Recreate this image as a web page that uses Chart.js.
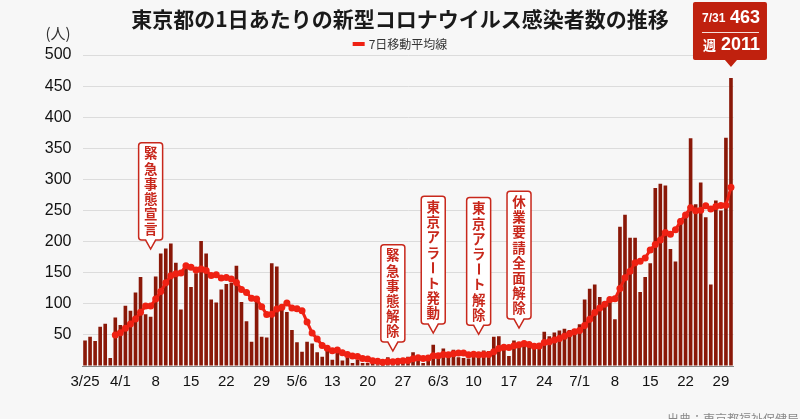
<!DOCTYPE html>
<html lang="ja">
<head>
<meta charset="utf-8">
<title>東京都の1日あたりの新型コロナウイルス感染者数の推移</title>
<script src="https://cdn.jsdelivr.net/npm/chart.js@4.4.1/dist/chart.umd.min.js"></script>
<style>
  html, body { margin: 0; padding: 0; background: #f7f7f7; }
  #wrap { width: 800px; height: 419px; position: relative; }
</style>
</head>
<body>
<div id="wrap"><canvas id="chart"></canvas></div>
<script>
// 日付 3/25〜7/31
const dates = [
  '3/25','3/26','3/27','3/28','3/29','3/30','3/31',
  '4/1','4/2','4/3','4/4','4/5','4/6','4/7','4/8','4/9','4/10','4/11','4/12','4/13','4/14','4/15',
  '4/16','4/17','4/18','4/19','4/20','4/21','4/22','4/23','4/24','4/25','4/26','4/27','4/28','4/29','4/30',
  '5/1','5/2','5/3','5/4','5/5','5/6','5/7','5/8','5/9','5/10','5/11','5/12','5/13','5/14','5/15','5/16',
  '5/17','5/18','5/19','5/20','5/21','5/22','5/23','5/24','5/25','5/26','5/27','5/28','5/29','5/30','5/31',
  '6/1','6/2','6/3','6/4','6/5','6/6','6/7','6/8','6/9','6/10','6/11','6/12','6/13','6/14','6/15',
  '6/16','6/17','6/18','6/19','6/20','6/21','6/22','6/23','6/24','6/25','6/26','6/27','6/28','6/29','6/30',
  '7/1','7/2','7/3','7/4','7/5','7/6','7/7','7/8','7/9','7/10','7/11','7/12','7/13','7/14','7/15','7/16',
  '7/17','7/18','7/19','7/20','7/21','7/22','7/23','7/24','7/25','7/26','7/27','7/28','7/29','7/30','7/31'
];

// x軸に出すラベル（7日ごと）
const tickLabels = ['3/25','4/1','8','15','22','29','5/6','13','20','27','6/3','10','17','24','7/1','8','15','22','29'];

// 1日あたりの感染者数
const daily = [
  41,47,40,63,68,13,78,
  66,97,89,118,143,83,79,144,181,189,197,166,91,161,127,149,201,181,107,102,123,132,134,161,103,72,39,112,47,46,
  165,160,91,87,58,38,23,39,36,22,15,28,10,30,9,14,5,10,5,5,11,3,2,14,8,10,11,15,22,14,5,
  13,34,12,28,20,26,14,13,12,18,22,25,24,47,48,27,16,41,35,39,35,29,31,55,48,54,57,60,58,54,
  67,107,124,131,111,102,106,75,224,243,206,206,119,143,165,286,293,290,188,168,237,238,366,260,295,239,131,266,250,367,463
];

// 7日移動平均
const ma7 = [
  null,null,null,null,null,null,50.0,
  53.6,60.7,67.7,75.6,86.3,96.3,96.4,107.6,119.6,133.9,145.1,148.4,149.6,161.3,158.9,154.3,156.0,153.7,145.3,146.9,
  141.4,142.1,140.0,134.3,123.1,118.1,109.1,107.6,95.4,82.9,
  83.4,91.6,94.3,101.1,93.4,92.1,88.9,70.9,53.1,43.3,33.0,28.7,24.7,25.7,21.4,18.3,15.9,15.1,11.9,11.1,
  8.4,7.6,5.9,7.1,6.9,7.6,8.4,9.0,11.7,13.4,12.1,
  12.9,16.3,16.4,18.3,18.0,19.7,21.0,21.0,17.9,18.7,17.9,18.6,18.3,23.0,28.0,30.1,29.9,32.6,34.0,36.1,
  34.4,31.7,32.3,37.9,38.9,41.6,44.1,47.7,51.9,55.1,
  56.9,65.3,75.3,85.9,93.1,99.4,106.9,108.0,124.7,141.7,152.4,166.0,168.4,173.7,186.6,195.4,202.6,214.6,212.0,219.0,
  232.4,242.9,254.3,249.6,250.3,257.6,252.3,256.4,258.1,258.3,287.3
];

// 出来事の吹き出し（tip は吹き出し先端のy値）
const events = [
  { date: '4/7',  text: '緊急事態宣言',     tip: 188 },
  { date: '5/25', text: '緊急事態解除',     tip: 24 },
  { date: '6/2',  text: '東京アラート発動', tip: 53 },
  { date: '6/11', text: '東京アラート解除', tip: 51 },
  { date: '6/19', text: '休業要請全面解除', tip: 61 }
];

const latestDate = '7/31';
const latestCount = 463;
const weekTotal = 2011;

const TITLE = '東京都の1日あたりの新型コロナウイルス感染者数の推移';
const JP = '"Noto Sans CJK JP", sans-serif';
const BAR = '#8a1808';
const RED = '#ef2113';
const ACCENT = '#c8281c';

function bubble(ctx, l, t, w, h, r, px, tipY, pw) {
  const b = t + h, rt = l + w;
  ctx.beginPath();
  ctx.moveTo(l + r, t);
  ctx.lineTo(rt - r, t);
  ctx.arcTo(rt, t, rt, t + r, r);
  ctx.lineTo(rt, b - r);
  ctx.arcTo(rt, b, rt - r, b, r);
  ctx.lineTo(px + pw, b);
  ctx.lineTo(px, tipY);
  ctx.lineTo(px - pw, b);
  ctx.lineTo(l + r, b);
  ctx.arcTo(l, b, l, b - r, r);
  ctx.lineTo(l, t + r);
  ctx.arcTo(l, t, l + r, t, r);
  ctx.closePath();
}

const overlay = {
  id: 'overlay',
  beforeDraw(chart) {
    const { ctx, width, height } = chart;
    ctx.save();
    ctx.fillStyle = '#f7f7f7';
    ctx.fillRect(0, 0, width, height);
    ctx.restore();
  },
  afterDraw(chart) {
    const { ctx } = chart;
    const xs = chart.scales.x, ys = chart.scales.y;
    ctx.save();
    ctx.textBaseline = 'middle';

    // タイトル
    ctx.fillStyle = '#1a1a1a';
    ctx.font = 'bold 21px ' + JP;
    ctx.textAlign = 'center';
    ctx.fillText(TITLE, 400, 19);

    // 凡例
    ctx.font = '12px ' + JP;
    const lt = '7日移動平均線';
    const tw = ctx.measureText(lt).width;
    const lx = 400 - (12 + 4 + tw) / 2;
    ctx.fillStyle = RED;
    ctx.fillRect(lx, 42, 12, 4);
    ctx.fillStyle = '#333';
    ctx.textAlign = 'left';
    ctx.fillText(lt, lx + 16, 44);

    // 単位
    ctx.font = '15px ' + JP;
    ctx.textAlign = 'center';
    ctx.fillText('(人)', 58, 33);

    // 出典
    ctx.font = '12px ' + JP;
    ctx.fillStyle = '#888';
    ctx.textAlign = 'left';
    ctx.fillText('出典：東京都福祉保健局', 667, 419);

    // 出来事の吹き出し
    events.forEach(ev => {
      const px = xs.getPixelForValue(dates.indexOf(ev.date));
      const tipY = ys.getPixelForValue(ev.tip);
      const chars = Array.from(ev.text);
      const pitch = 15.2, margin = 10.7;
      const h = (chars.length - 1) * pitch + margin * 2;
      const bottom = tipY - 9;
      const top = bottom - h;
      bubble(ctx, px - 12, top, 24, h, 3, px, tipY, 5);
      ctx.fillStyle = '#fff';
      ctx.fill();
      ctx.lineWidth = 1.5;
      ctx.strokeStyle = ACCENT;
      ctx.stroke();
      ctx.fillStyle = ACCENT;
      ctx.font = 'bold 13.5px ' + JP;
      ctx.textAlign = 'center';
      chars.forEach((c, i) => {
        const cy = top + margin + i * pitch;
        if (c === 'ー') {
          ctx.save();
          ctx.translate(px, cy);
          ctx.rotate(Math.PI / 2);
          ctx.fillText(c, 0, 0);
          ctx.restore();
        } else {
          ctx.fillText(c, px, cy);
        }
      });
    });

    // 最新値のバッジ
    const bx = xs.getPixelForValue(dates.indexOf(latestDate));
    const l = bx - 38, t = 2, w = 74, h = 58;
    bubble(ctx, l, t, w, h, 2, bx, t + h + 7, 6);
    ctx.fillStyle = '#c0210e';
    ctx.fill();
    ctx.fillStyle = '#fff';
    ctx.strokeStyle = 'rgba(255,255,255,0.85)';
    ctx.lineWidth = 1;
    ctx.beginPath();
    ctx.moveTo(l + 9, 32.5);
    ctx.lineTo(l + 66, 32.5);
    ctx.stroke();
    ctx.textAlign = 'left';
    ctx.font = 'bold 12px "Liberation Sans", sans-serif';
    ctx.fillText(latestDate, l + 9, 18.5);
    ctx.font = 'bold 13px ' + JP;
    ctx.fillText('週', l + 10, 45.5);
    ctx.textAlign = 'right';
    ctx.font = 'bold 18px "Liberation Sans", sans-serif';
    ctx.fillText(String(latestCount), l + 67, 18.5);
    ctx.fillText(String(weekTotal), l + 67, 45.5);

    ctx.restore();
  }
};

Chart.defaults.font.family = '"Liberation Sans", "Noto Sans CJK JP", sans-serif';
Chart.defaults.color = '#111';

new Chart(document.getElementById('chart').getContext('2d'), {
  type: 'bar',
  data: {
    labels: dates,
    datasets: [
      {
        type: 'line',
        label: '7日移動平均線',
        data: ma7,
        borderColor: RED,
        backgroundColor: RED,
        borderWidth: 3,
        pointRadius: 3.5,
        pointBackgroundColor: RED,
        pointBorderWidth: 0,
        tension: 0,
        spanGaps: false,
        order: 0
      },
      {
        type: 'bar',
        label: '感染者数',
        data: daily,
        backgroundColor: BAR,
        categoryPercentage: 1,
        barPercentage: 0.72,
        order: 1
      }
    ]
  },
  options: {
    responsive: true,
    maintainAspectRatio: false,
    animation: false,
    layout: { padding: { top: 55, right: 66.5, bottom: 21, left: 0 } },
    plugins: {
      legend: { display: false },
      title: { display: false },
      tooltip: { enabled: false }
    },
    scales: {
      x: {
        grid: { display: false, drawTicks: false },
        border: { display: true, color: '#888', width: 1 },
        ticks: {
          autoSkip: false,
          maxRotation: 0,
          padding: 7,
          font: { size: 15 },
          color: '#111',
          callback: (v, i) => (i % 7 === 0 ? tickLabels[i / 7] : null)
        }
      },
      y: {
        min: 0,
        max: 500,
        afterFit: s => { s.width = 82.5; },
        grid: { color: '#dcdcdc', drawTicks: false },
        border: { display: false },
        ticks: {
          stepSize: 50,
          padding: 11,
          font: { size: 16 },
          color: '#111',
          callback: v => (v === 0 ? '' : v)
        }
      }
    }
  },
  plugins: [overlay]
});
</script>
</body>
</html>
